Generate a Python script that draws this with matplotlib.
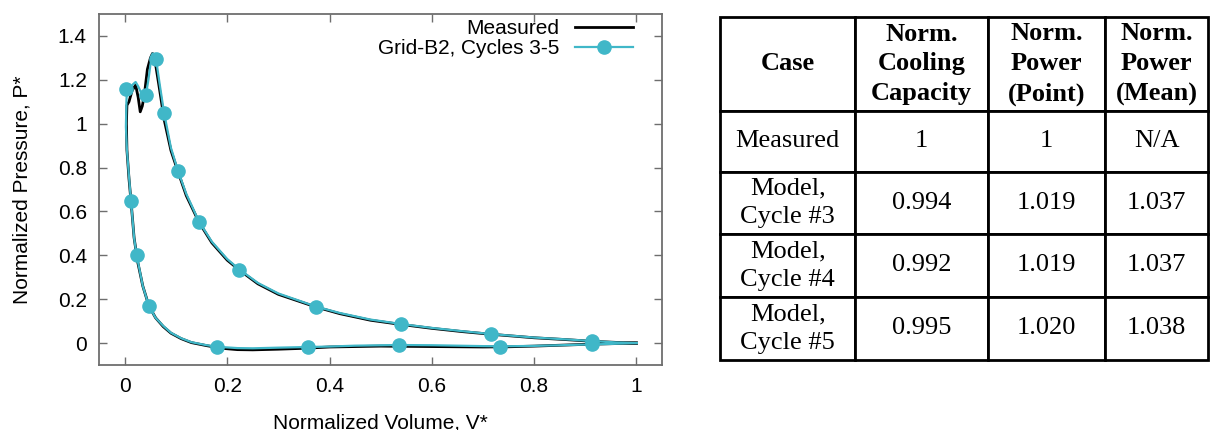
"""
PV diagram (measured vs. Grid-B2 model) with a summary table beside it
"""

import matplotlib
matplotlib.use("Agg")
import matplotlib.pyplot as plt
from matplotlib.lines import Line2D

# measured loop (lower branch right->left, then top, then expansion)
measured_v = [1.0, 0.95, 0.9, 0.85, 0.8, 0.75, 0.7, 0.6, 0.5, 0.4, 0.35, 0.3, 0.25, 0.22,
              0.19, 0.16, 0.13, 0.11, 0.09, 0.075, 0.06, 0.047, 0.035, 0.025, 0.018, 0.012,
              0.008, 0.004, 0.003, 0.004, 0.008, 0.014, 0.021, 0.026, 0.030, 0.034, 0.038,
              0.044, 0.050, 0.054, 0.058, 0.067, 0.077, 0.09, 0.104, 0.12, 0.145, 0.17, 0.2,
              0.223, 0.26, 0.3, 0.374, 0.42, 0.48, 0.539, 0.6, 0.66, 0.716, 0.8, 0.86, 0.913,
              0.96, 1.0]
measured_p = [0.0, -0.003, -0.006, -0.010, -0.014, -0.017, -0.018, -0.016, -0.014, -0.018,
              -0.024, -0.028, -0.031, -0.030, -0.024, -0.012, 0.002, 0.020, 0.045, 0.075,
              0.115, 0.169, 0.26, 0.37, 0.48, 0.646, 0.75, 0.88, 1.0, 1.084, 1.10, 1.15,
              1.176, 1.12, 1.054, 1.08, 1.13, 1.248, 1.30, 1.32, 1.30, 1.168, 1.016, 0.878,
              0.78, 0.672, 0.55, 0.457, 0.378, 0.334, 0.27, 0.222, 0.164, 0.134, 0.104,
              0.085, 0.067, 0.052, 0.040, 0.024, 0.016, 0.008, 0.003, 0.0]

# model curve (Grid-B2, cycles 3-5)
model_v = [1.0, 0.95, 0.914, 0.85, 0.8, 0.734, 0.7, 0.6, 0.535, 0.45, 0.4, 0.359, 0.3,
           0.25, 0.22, 0.181, 0.16, 0.13, 0.11, 0.09, 0.075, 0.06, 0.047, 0.035, 0.023,
           0.018, 0.012, 0.008, 0.004, 0.002, 0.003, 0.004, 0.010, 0.016, 0.021, 0.026,
           0.031, 0.041, 0.046, 0.050, 0.054, 0.061, 0.068, 0.0766, 0.09, 0.104, 0.12,
           0.145, 0.17, 0.2, 0.223, 0.26, 0.3, 0.374, 0.42, 0.48, 0.539, 0.6, 0.66, 0.716,
           0.8, 0.86, 0.913, 0.96, 1.0]
model_p = [0.0, -0.004, -0.006, -0.010, -0.013, -0.015, -0.014, -0.010, -0.009, -0.012,
           -0.016, -0.018, -0.021, -0.024, -0.023, -0.017, -0.010, 0.004, 0.022, 0.047,
           0.078, 0.115, 0.169, 0.26, 0.40, 0.48, 0.646, 0.76, 0.88, 0.985, 1.10, 1.156,
           1.16, 1.18, 1.19, 1.17, 1.145, 1.13, 1.20, 1.27, 1.32, 1.293, 1.18, 1.05, 0.89,
           0.784, 0.68, 0.553, 0.462, 0.383, 0.337, 0.274, 0.226, 0.166, 0.137, 0.107,
           0.087, 0.069, 0.054, 0.041, 0.025, 0.017, 0.009, 0.003, 0.0]

# marker positions of the model series
marker_v = [0.003, 0.041, 0.061, 0.0766, 0.104, 0.145, 0.223, 0.374, 0.539, 0.716, 0.913,
            0.012, 0.023, 0.047, 0.181, 0.358, 0.535, 0.734, 0.913]
marker_p = [1.156, 1.13, 1.293, 1.05, 0.784, 0.553, 0.334, 0.165, 0.086, 0.040, 0.009,
            0.646, 0.40, 0.169, -0.017, -0.018, -0.010, -0.016, -0.006]

x_ticks = [0, 0.2, 0.4, 0.6, 0.8, 1.0]
x_tick_labels = ["0", "0.2", "0.4", "0.6", "0.8", "1"]
y_ticks = [0, 0.2, 0.4, 0.6, 0.8, 1.0, 1.2, 1.4]
y_tick_labels = ["0", "0.2", "0.4", "0.6", "0.8", "1", "1.2", "1.4"]

# table contents
table_header = ["Case", "Norm.\nCooling\nCapacity", "Norm.\nPower\n(Point)", "Norm.\nPower\n(Mean)"]
table_cases = ["Measured", "Model,\nCycle #3", "Model,\nCycle #4", "Model,\nCycle #5"]
cooling_capacity = ["1", "0.994", "0.992", "0.995"]
power_point = ["1", "1.019", "1.019", "1.020"]
power_mean = ["N/A", "1.037", "1.037", "1.038"]

cyan = "#40b7c8"
spine_gray = "#6e6e6e"

plt.rcParams["font.family"] = ["Liberation Sans", "DejaVu Sans"]

fig = plt.figure(figsize=(12.11, 4.30), dpi=100)
ax = fig.add_axes([0.082, 0.1512, 0.4647, 0.8163])

ax.plot(measured_v, measured_p, color="black", lw=2.0, zorder=2)
ax.plot(model_v, model_p, color=cyan, lw=1.6, zorder=3)
ax.plot(marker_v, marker_p, "o", color=cyan, ms=9.5, zorder=4)

ax.set_xlim(-0.05, 1.05)
ax.set_ylim(-0.1, 1.5)
ax.set_xticks(x_ticks)
ax.set_xticklabels(x_tick_labels)
ax.set_yticks(y_ticks)
ax.set_yticklabels(y_tick_labels)
ax.tick_params(direction="in", length=6, width=1.0, color=spine_gray,
               top=True, right=True, labelsize=15, pad=9)
for spine in ax.spines.values():
    spine.set_color(spine_gray)
    spine.set_linewidth(1.3)

ax.set_xlabel("Normalized Volume, V*", fontsize=15, labelpad=12)
ax.set_ylabel("Normalized Pressure, P*", fontsize=15, labelpad=19)

# legend, gnuplot style (text first, sample on the right)
handles = [Line2D([], [], color="black", lw=2.0),
           Line2D([], [], color=cyan, lw=1.6, marker="o", ms=9.5)]
ax.legend(handles, ["Measured", "Grid-B2, Cycles 3-5"], loc="upper right",
          bbox_to_anchor=(0.9485, 0.985), markerfirst=False, frameon=False,
          fontsize=15, handlelength=2.8, handletextpad=0.75, labelspacing=0.05,
          borderpad=0, borderaxespad=0)

# table on the right
tax = fig.add_axes([0.5946, 0.1628, 0.403, 0.7977])
tax.axis("off")
cell_text = [[c, a, b, m] for c, a, b, m in zip(table_cases, cooling_capacity, power_point, power_mean)]
col_widths = [135, 133, 117, 103]
tbl = tax.table(cellText=cell_text, colLabels=table_header, cellLoc="center",
                colWidths=[w / sum(col_widths) for w in col_widths], bbox=[0, 0, 1, 1])
tbl.auto_set_font_size(False)
row_heights = [94, 61, 62, 63, 63]
for (r, c), cell in tbl.get_celld().items():
    cell.set_height(row_heights[r])
    cell.set_linewidth(2.0)
    cell.set_edgecolor("black")
    cell.set_clip_on(False)
    txt = cell.get_text()
    txt.set_fontfamily(["Liberation Serif", "DejaVu Serif"])
    txt.set_fontsize(19)
    txt.set_linespacing(1.38)
    if r == 0:
        txt.set_fontweight("bold")

fig.savefig("out.png", dpi=100)
